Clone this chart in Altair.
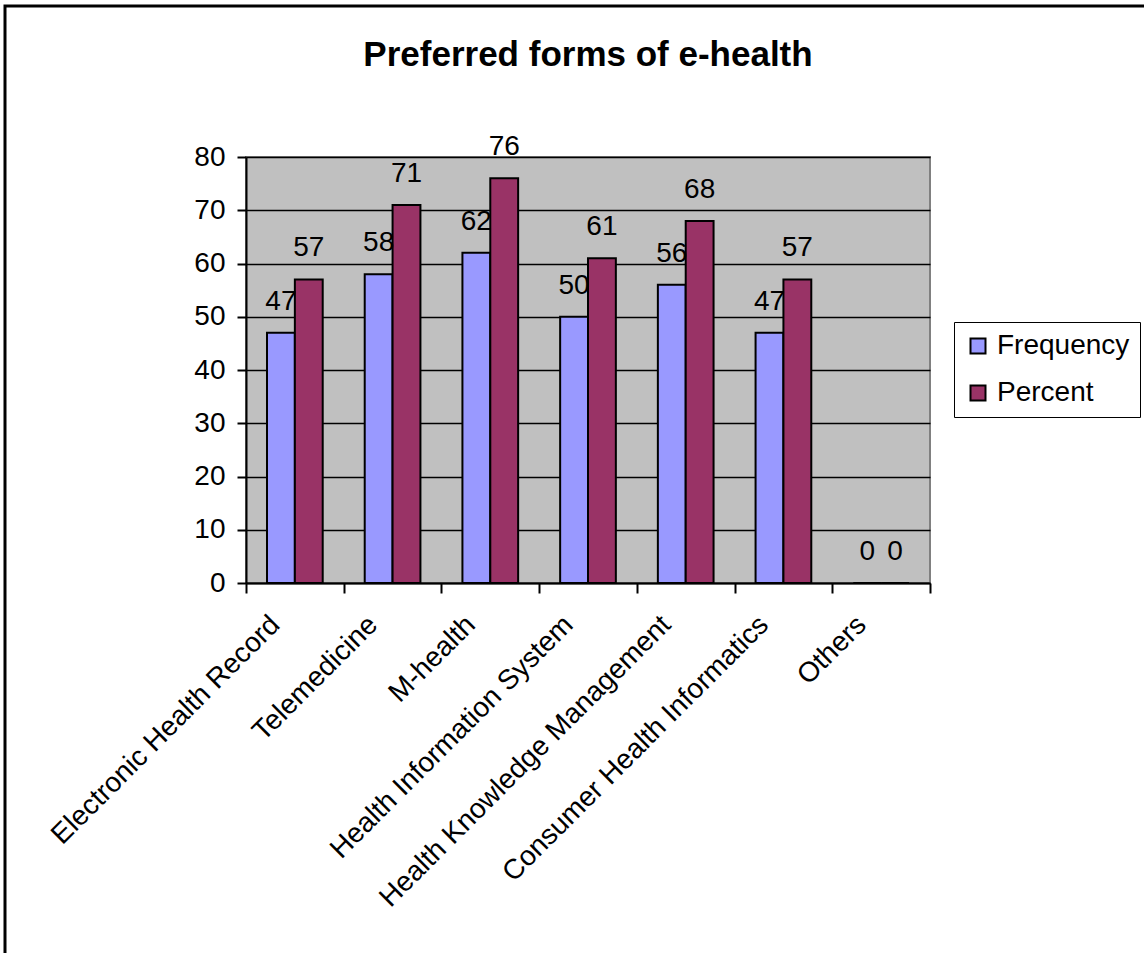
import altair as alt
import pandas as pd

# Survey results: preferred forms of e-health
categories = [
    "Electronic Health Record",
    "Telemedicine",
    "M-health",
    "Health Information System",
    "Health Knowledge Management",
    "Consumer Health Informatics",
    "Others",
]
frequency = [47, 58, 62, 50, 56, 47, 0]
percent = [57, 71, 76, 61, 68, 57, 0]
series_names = ["Frequency", "Percent"]
series_colors = ["#9999FF", "#993366"]
y_ticks = [0, 10, 20, 30, 40, 50, 60, 70, 80]

rows = []
for cat, f, p in zip(categories, frequency, percent):
    rows.append({"category": cat, "series": "Frequency", "value": f})
    rows.append({"category": cat, "series": "Percent", "value": p})
df = pd.DataFrame(rows)

FONT = "Liberation Sans"
LABEL_SIZE = 28

x_enc = alt.X(
    "category:N",
    sort=categories,
    scale=alt.Scale(paddingInner=0, paddingOuter=0),
    axis=alt.Axis(
        title=None,
        labelAngle=-45,
        labelAlign="right",
        labelBaseline="alphabetic",
        labelOffset=-14,
        labelPadding=33,
        labelFont=FONT,
        labelFontSize=LABEL_SIZE,
        labelColor="black",
        labelLimit=0,
        tickBand="extent",
        tickSize=10,
        tickWidth=2,
        tickColor="black",
        domainColor="black",
        domainWidth=2,
        grid=False,
    ),
)
y_enc = alt.Y(
    "value:Q",
    scale=alt.Scale(domain=[0, 80], nice=False),
    axis=alt.Axis(
        title=None,
        values=y_ticks,
        labelFont=FONT,
        labelFontSize=LABEL_SIZE,
        labelColor="black",
        labelPadding=12,
        tickSize=9,
        tickWidth=2,
        tickColor="black",
        domainColor="black",
        domainWidth=2,
        grid=True,
        gridColor="black",
        gridWidth=1.5,
    ),
)
# the two bars sit together in the middle ~57% of each category slot
offset_enc = alt.XOffset(
    "series:N",
    sort=series_names,
    scale=alt.Scale(paddingInner=0, paddingOuter=0.754),
)

bars = alt.Chart(df).mark_bar(stroke="black", strokeWidth=2).encode(
    x=x_enc,
    y=y_enc,
    xOffset=offset_enc,
    color=alt.Color(
        "series:N",
        sort=series_names,
        scale=alt.Scale(domain=series_names, range=series_colors),
        legend=alt.Legend(
            title=None,
            orient="none",
            legendX=708,
            legendY=165,
            symbolType="square",
            symbolSize=225,
            symbolStrokeColor="black",
            symbolStrokeWidth=2,
            labelFont=FONT,
            labelFontSize=LABEL_SIZE,
            labelColor="black",
            labelOffset=5,
            rowPadding=19,
            padding=10,
            strokeColor="black",
            fillColor="white",
        ),
    ),
)

labels = alt.Chart(df).mark_text(
    font=FONT, fontSize=LABEL_SIZE, color="black", baseline="alphabetic", dy=-23
).encode(
    x=alt.X("category:N", sort=categories),
    y="value:Q",
    xOffset=offset_enc,
    text="value:Q",
)

# outer chart frame (only top and left edges fall inside the page)
frame = alt.Chart(alt.Data(values=[{}])).mark_rect(
    filled=False, stroke="black", strokeWidth=3
).encode(
    x=alt.value(-241), x2=alt.value(1200), y=alt.value(-151), y2=alt.value(1000)
)

chart = alt.layer(frame, bars, labels).properties(
    width=684,
    height=426,
    autosize=alt.AutoSizeParams(type="none"),
    padding={"left": 246, "top": 157, "right": 214, "bottom": 370},
    title=alt.Title(
        "Preferred forms of e-health",
        font=FONT,
        fontSize=35,
        fontWeight="bold",
        color="black",
        frame="group",
        anchor="middle",
        baseline="alphabetic",
        offset=0,
        dy=96,
    ),
    background="white",
).configure_view(
    fill="#C0C0C0", stroke="#808080", strokeWidth=2
)

chart.save("out.html", embed_options={"renderer": "svg", "actions": False})
